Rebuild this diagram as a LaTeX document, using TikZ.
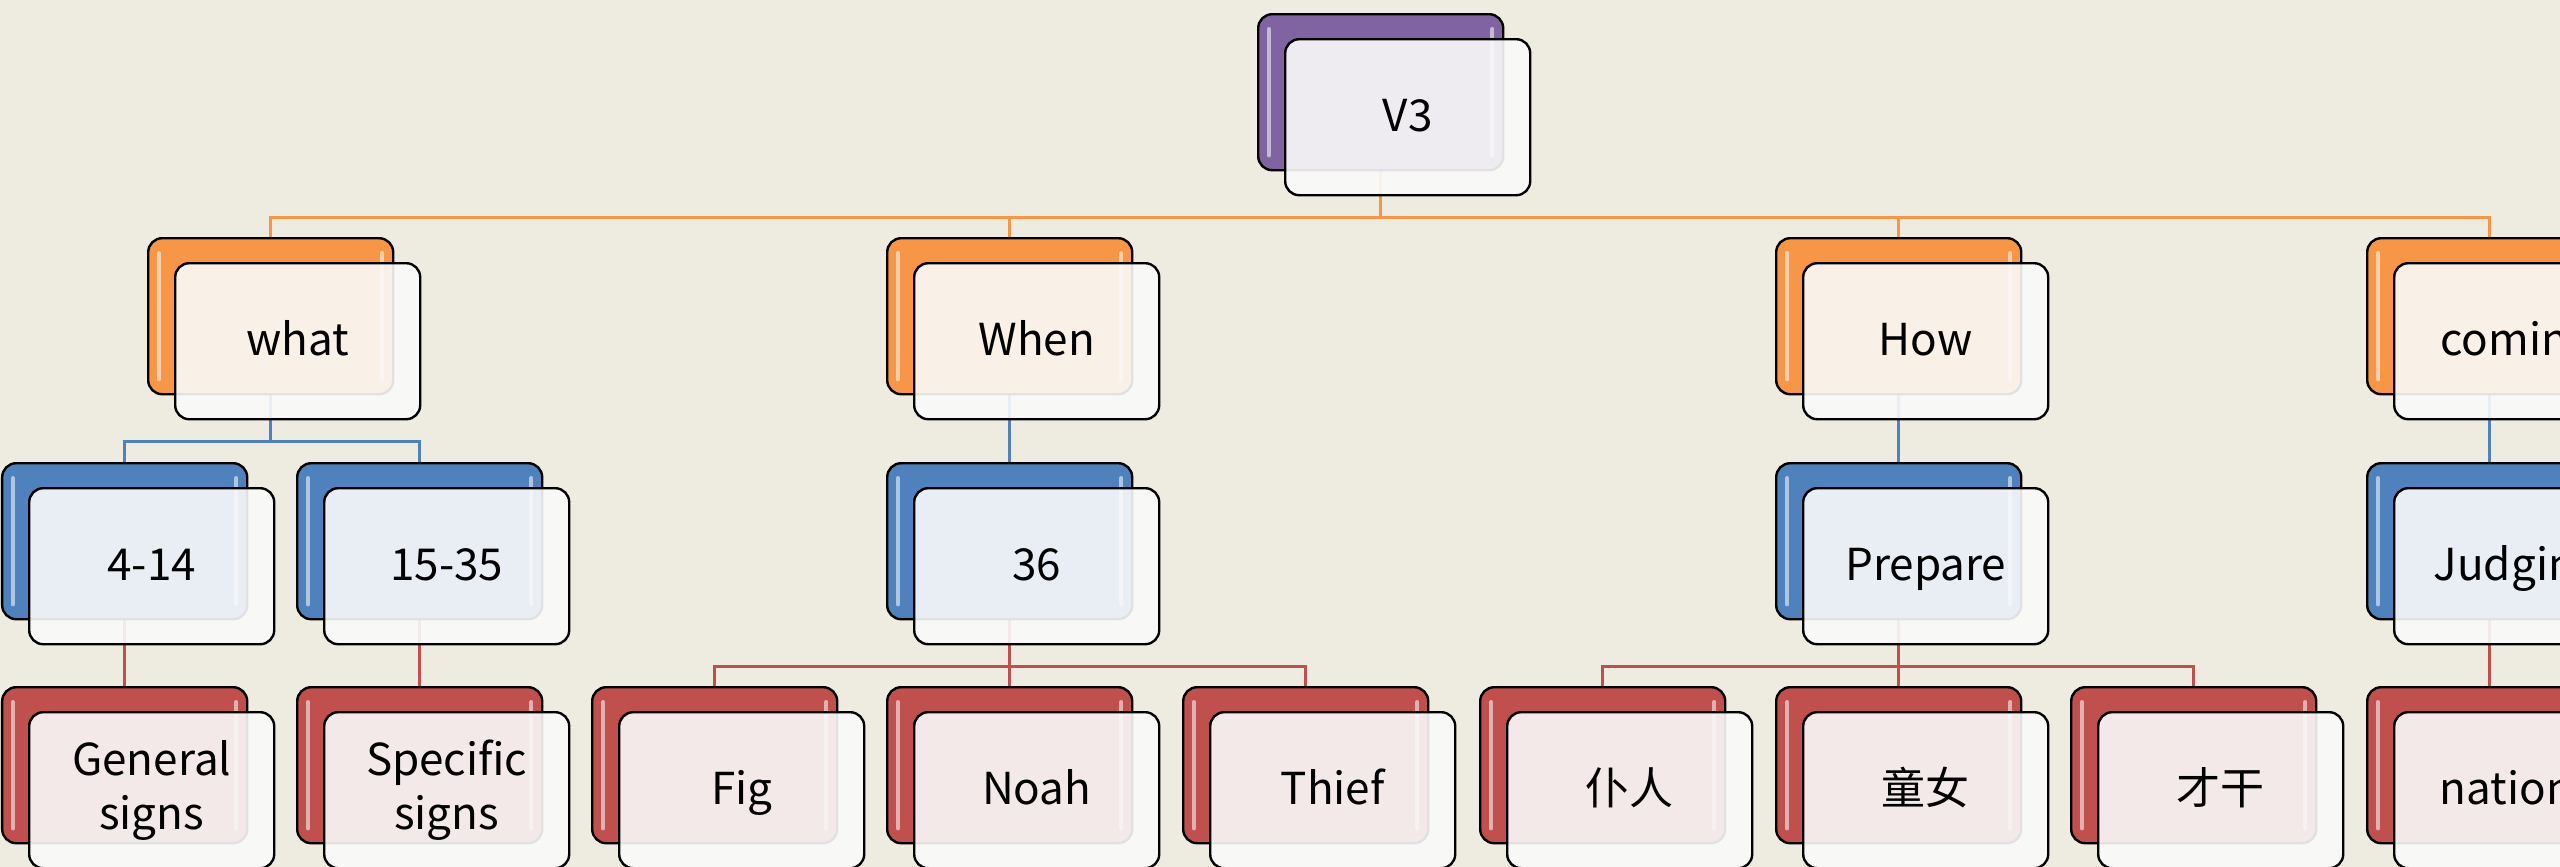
\documentclass[tikz,border=0pt]{standalone}
\usepackage{fontspec}
\setmainfont{Noto Sans CJK SC}

\pgfdeclarelayer{bg}
\pgfsetlayers{bg,main}

\definecolor{paper}{HTML}{EEECE1}
\definecolor{accpurple}{HTML}{8064A2}
\definecolor{accorange}{HTML}{F79646}
\definecolor{accblue}{HTML}{4F81BD}
\definecolor{accred}{HTML}{C0504D}

\tikzset{
	back/.style={draw=black, line width=1.2pt, rounded corners=7pt, minimum width=122.5pt, minimum height=78pt, inner sep=0pt, anchor=north west},
	front/.style={draw=black, line width=1.2pt, rounded corners=7pt, minimum width=122.5pt, minimum height=78pt, inner sep=0pt, fill=black!2, fill opacity=0.9, text opacity=1, align=center, font=\fontsize{22}{27}\selectfont},
	oneline/.style={text height=17pt, text depth=2.5pt},
	gloss/.style={white, opacity=0.55, line width=2pt, line cap=round},
	link/.style={line width=1.4pt},
}

% back box, two gloss strips, front box with the text
\newcommand{\smartbox}[5][oneline]{%
	\node[back, fill=#4] (#2) at (#3) {};
	\draw[gloss] ([shift={(12,16)}]#2.north west) -- ([shift={(12,-16)}]#2.south west);
	\draw[gloss] ([shift={(-12,16)}]#2.north east) -- ([shift={(-12,-16)}]#2.south east);
	\node[front, #1] (#2-t) at ([shift={(27,25)}]#2.center) {#5};
}

\begin{document}
\begin{tikzpicture}[x=0.5pt, y=-0.5pt]
	\useasboundingbox (0,0) rectangle (2560,867);
	\begin{pgfonlayer}{bg}
		\fill[paper] (0,0) rectangle (2560,867);
	\end{pgfonlayer}

	\smartbox{v3}{1257,13}{accpurple}{V3}

	\smartbox{what}{147,237}{accorange}{what}
	\smartbox{when}{886,237}{accorange}{When}
	\smartbox{how}{1775,237}{accorange}{How}
	\smartbox{coming}{2366,237}{accorange}{coming}

	\smartbox{r414}{1,462}{accblue}{4-14}
	\smartbox{r1535}{296,462}{accblue}{15-35}
	\smartbox{r36}{886,462}{accblue}{36}
	\smartbox{prepare}{1775,462}{accblue}{Prepare}
	\smartbox{judging}{2366,462}{accblue}{Judging}

	\smartbox[]{general}{1,686}{accred}{General\\signs}
	\smartbox[]{specific}{296,686}{accred}{Specific\\signs}
	\smartbox{fig}{591,686}{accred}{Fig}
	\smartbox{noah}{886,686}{accred}{Noah}
	\smartbox{thief}{1182,686}{accred}{Thief}
	\smartbox{servant}{1479,686}{accred}{仆人}
	\smartbox{virgins}{1775,686}{accred}{童女}
	\smartbox{talents}{2070,686}{accred}{才干}
	\smartbox{nations}{2366,686}{accred}{nations}

	% connectors behind the boxes
	\begin{pgfonlayer}{bg}
		\foreach \c in {what,when,how,coming}
			\draw[link, accorange] (v3.south) -- ++(0,46) -| (\c.north);
		\foreach \c in {r414,r1535}
			\draw[link, accblue] (what.south) -- ++(0,46) -| (\c.north);
		\draw[link, accblue] (when.south) -- (r36.north);
		\draw[link, accblue] (how.south) -- (prepare.north);
		\draw[link, accblue] (coming.south) -- (judging.north);
		\draw[link, accred] (r414.south) -- (general.north);
		\draw[link, accred] (r1535.south) -- (specific.north);
		\foreach \c in {fig,noah,thief}
			\draw[link, accred] (r36.south) -- ++(0,46) -| (\c.north);
		\foreach \c in {servant,virgins,talents}
			\draw[link, accred] (prepare.south) -- ++(0,46) -| (\c.north);
		\draw[link, accred] (judging.south) -- (nations.north);
	\end{pgfonlayer}
\end{tikzpicture}
\end{document}
